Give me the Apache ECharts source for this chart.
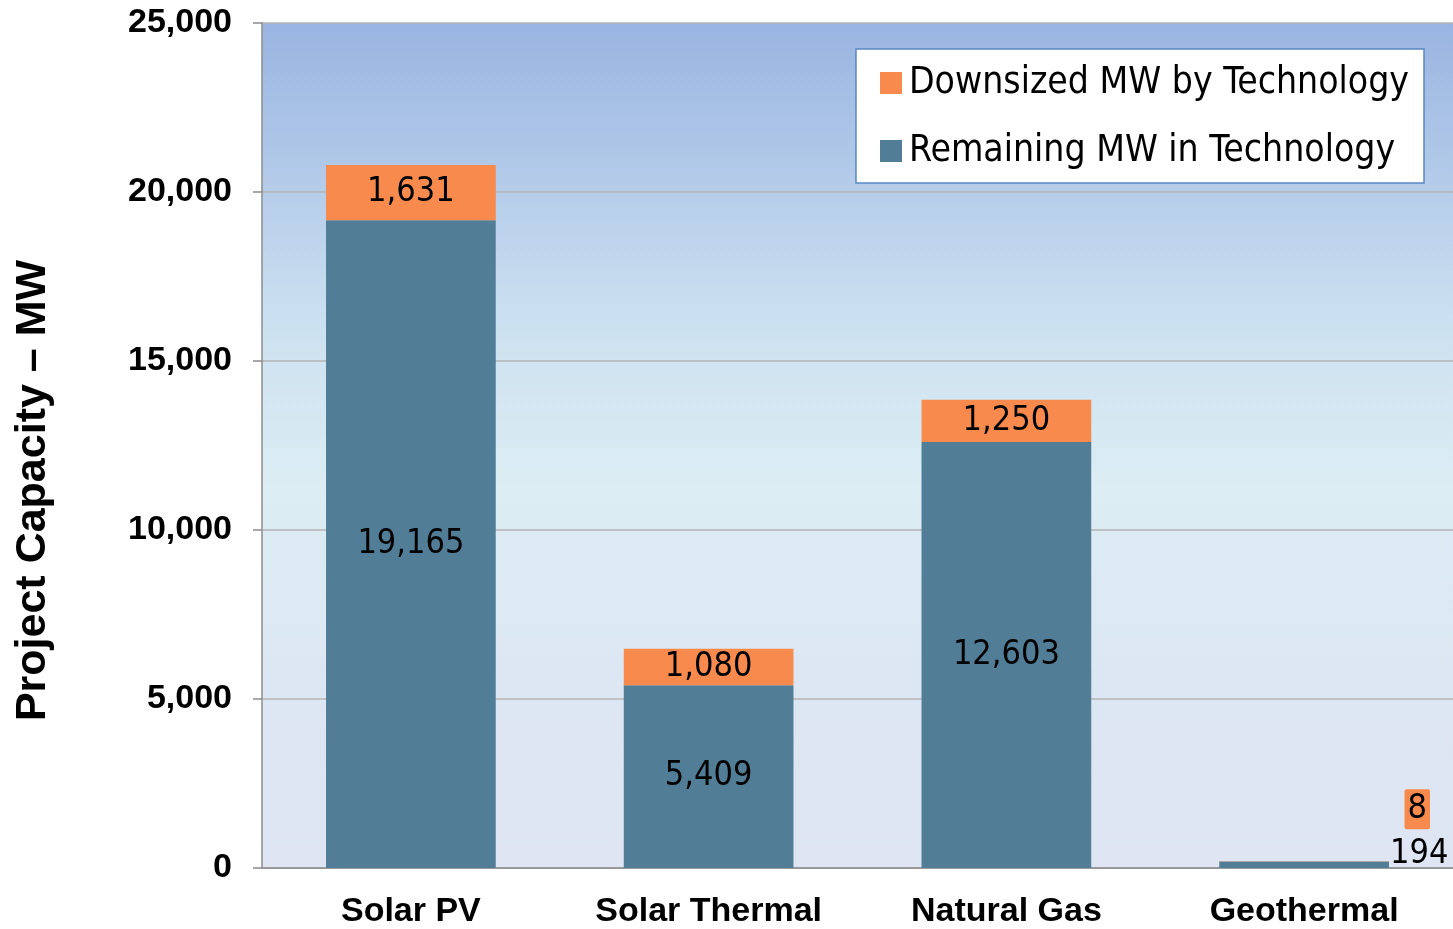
<!DOCTYPE html>
<html>
<head>
<meta charset="utf-8">
<script src="https://cdn.jsdelivr.net/npm/echarts@6/dist/echarts.min.js"></script>
<style>
html,body{margin:0;padding:0;background:#fff;}
#chart{width:1453px;height:929px;}
</style>
</head>
<body>
<div id="chart"></div>
<script>
var categories = ['Solar PV', 'Solar Thermal', 'Natural Gas', 'Geothermal'];
var remainingMW = [19165, 5409, 12603, 194];
var downsizedMW = [1631, 1080, 1250, 8];
var yTicks = [0, 5000, 10000, 15000, 20000, 25000];

var NARROW = "'Liberation Sans Narrow','Arial Narrow','DejaVu Sans Condensed',sans-serif";
var BOLD = "'Liberation Sans',Arial,sans-serif";
var ORANGE = '#f78a4c';
var TEAL = '#517e96';

function fmt(v){ return v.toLocaleString('en-US'); }

var remData = remainingMW.map(function(v, i){
  var d = {value: v};
  if (i === 3) {
    d.label = {position: [200, -7], align: 'center', verticalAlign: 'middle'};
  }
  return d;
});
var downData = downsizedMW.map(function(v, i){
  var d = {value: v};
  if (i === 3) {
    d.label = {position: [198, -52], align: 'center', verticalAlign: 'middle',
      backgroundColor: ORANGE, padding: [4, 3, 2, 3], borderRadius: 2};
  }
  return d;
});

var chart = echarts.init(document.getElementById('chart'), null, {renderer: 'canvas'});
chart.setOption({
  animation: false,
  grid: {
    left: 262, right: 0, top: 23, bottom: 56,
    show: true,
    borderWidth: 0,
    backgroundColor: {
      type: 'linear', x: 0, y: 0, x2: 0, y2: 1,
      colorStops: [
        {offset: 0, color: '#99b4e1'},
        {offset: 0.35, color: '#cbe0f0'},
        {offset: 0.55, color: '#dcedf3'},
        {offset: 0.8, color: '#dde6f3'},
        {offset: 1, color: '#dfe5f3'}
      ]
    }
  },
  legend: {
    right: 29, top: 49,
    orient: 'vertical',
    backgroundColor: '#ffffff',
    borderColor: '#5a86c2',
    borderWidth: 1.5,
    padding: [14, 15, 12, 24],
    itemWidth: 22, itemHeight: 22,
    itemGap: 28,
    icon: 'rect',
    textStyle: {fontFamily: NARROW, fontSize: 37, lineHeight: 40, color: '#000', padding: [0,0,0,2]},
    data: ['Downsized MW by Technology', 'Remaining MW in Technology']
  },
  xAxis: {
    type: 'category',
    data: categories,
    axisLine: {show: true, lineStyle: {color: '#8c8c8c', width: 1.5}},
    axisTick: {show: false},
    axisLabel: {fontFamily: BOLD, fontWeight: 'bold', fontSize: 34, color: '#000', margin: 27}
  },
  yAxis: {
    type: 'value',
    min: 0, max: 25000, interval: 5000,
    name: 'Project Capacity – MW',
    nameLocation: 'middle',
    nameGap: 207,
    nameTextStyle: {fontFamily: BOLD, fontWeight: 'bold', fontSize: 43, color: '#000', padding: [0, 90, 0, 0]},
    axisLine: {show: true, lineStyle: {color: '#8c8c8c', width: 1.5}},
    axisTick: {show: true, length: 9, lineStyle: {color: '#8c8c8c', width: 1.5}},
    axisLabel: {fontFamily: BOLD, fontWeight: 'bold', fontSize: 34, color: '#000', margin: 30,
      formatter: function(v){ return yTicks.indexOf(v) >= 0 ? fmt(v) : ''; }},
    splitLine: {show: true, lineStyle: {color: '#b4b4b4', width: 1.5}}
  },
  series: [
    {
      name: 'Remaining MW in Technology',
      type: 'bar', stack: 'total',
      barWidth: '57%',
      itemStyle: {color: TEAL},
      label: {show: true, position: 'inside', fontFamily: NARROW, fontSize: 34, color: '#000',
        formatter: function(p){ return fmt(p.value); }},
      data: remData
    },
    {
      name: 'Downsized MW by Technology',
      type: 'bar', stack: 'total',
      barWidth: '57%',
      itemStyle: {color: ORANGE},
      label: {show: true, position: 'inside', fontFamily: NARROW, fontSize: 34, color: '#000',
        formatter: function(p){ return fmt(p.value); }},
      data: downData
    }
  ]
});
</script>
</body>
</html>
